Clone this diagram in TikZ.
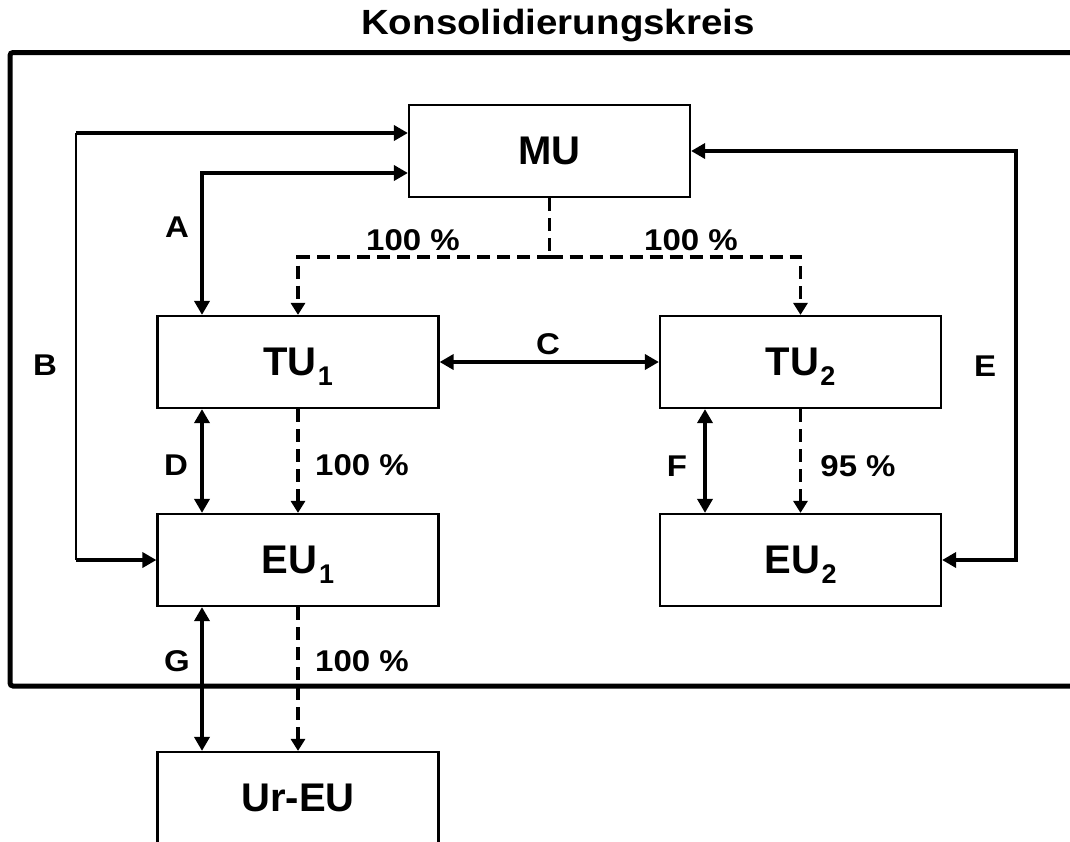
\documentclass[tikz,border=0pt]{standalone}
\usepackage{fontspec}
\setmainfont{Liberation Sans}
\newfontfamily\stretchfont[FakeStretch=1.1]{Liberation Sans}
\usetikzlibrary{arrows.meta}
\tikzset{
  box/.style={draw, line width=2.2pt, minimum width=281pt, minimum height=92pt, inner sep=0pt,
    font=\bfseries\fontsize{40}{40}\selectfont},
  lbl/.style={inner sep=0pt, font=\stretchfont\bfseries\fontsize{30}{30}\selectfont},
  ttl/.style={inner sep=0pt, font=\stretchfont\bfseries\fontsize{35}{35}\selectfont},
  solidarr/.style={line width=3.8pt, {Triangle[length=14pt,width=15pt]}-{Triangle[length=14pt,width=15pt]}},
  onearr/.style={line width=3.8pt, -{Triangle[length=14pt,width=15pt]}},
  thinline/.style={line width=2.3pt},
  dasharr/.style={line width=3.5pt, dash pattern=on 13pt off 7pt, -{Triangle[length=12pt,width=14pt]}},
  dashline/.style={line width=3.5pt, dash pattern=on 13pt off 7pt},
  frame/.style={line width=5pt, rounded corners=3pt}
}
\newcommand{\sub}[1]{\kern1.5pt\raisebox{-10pt}[0pt][0pt]{\fontsize{27}{27}\selectfont #1}}
\begin{document}
\begin{tikzpicture}[x=1pt, y=-1pt]
\useasboundingbox (0,0) rectangle (1070,841);
\clip (0,0) rectangle (1070,841);
% title
\node[ttl] (title) at (558,26) {Konsolidierungskreis};
% frame
\draw[frame] (1090,52.5) -- (10,52.5) -- (10,686) -- (1090,686);
% boxes
\node[box] (MU) at (549.5,151) {MU};
\node[box] (TU1) at (298,362) {TU\sub{1}};
\node[box] (TU2) at (800.5,362) {TU\sub{2}};
\node[box] (EU1) at (298,560) {EU\sub{1}};
\node[box] (EU2) at (800.5,560) {EU\sub{2}};
\node[box] (UrEU) at (298,798) {Ur-EU};
% helper coordinates
\coordinate (aCorner) at (202,173);
\coordinate (bTop) at (76,133);
\coordinate (bBot) at (76,560);
\coordinate (eTop) at (1016,151);
\coordinate (eBot) at (1016,560);
\coordinate (split) at (549.5,257);
% A
\draw[solidarr] (MU.west |- aCorner) -- (aCorner) -- (TU1.north -| aCorner);
% B
\draw[thinline] (bTop) -- (bBot);
\draw[onearr] (bTop) -- (MU.west |- bTop);
\draw[onearr] (bBot) -- (EU1.west);
% C
\draw[solidarr] (TU1.east) -- (TU2.west);
% D
\draw[solidarr] (TU1.south -| aCorner) -- (EU1.north -| aCorner);
% E
\draw[solidarr] (MU.east) -- (eTop) -- (eBot) -- (EU2.east);
% F
\draw[solidarr] ([xshift=-95.5pt]TU2.south) -- ([xshift=-95.5pt]EU2.north);
% G
\draw[solidarr] (EU1.south -| aCorner) -- (UrEU.north -| aCorner);
% dashed ownership lines
\draw[dashline] (MU.south) -- (split);
\draw[dasharr] (split) -| (TU1.north);
\draw[dasharr] (split) -| (TU2.north);
\draw[dasharr] (TU1.south) -- (EU1.north);
\draw[dasharr] (TU2.south) -- (EU2.north);
\draw[dasharr] (EU1.south) -- (UrEU.north);
% labels
\node[lbl] (lA) at (177,227) {A};
\node[lbl] (lB) at (45,365) {B};
\node[lbl] (lC) at (548,344) {C};
\node[lbl] (lD) at (176,465) {D};
\node[lbl] (lE) at (985,366) {E};
\node[lbl] (lF) at (677,466) {F};
\node[lbl] (lG) at (177,661) {G};
\node[lbl] (p1) at (413,240) {100 \%};
\node[lbl] (p2) at (691,240) {100 \%};
\node[lbl] (p3) at (362,465) {100 \%};
\node[lbl] (p4) at (858,466) {95 \%};
\node[lbl] (p5) at (362,661) {100 \%};
\end{tikzpicture}
\end{document}
